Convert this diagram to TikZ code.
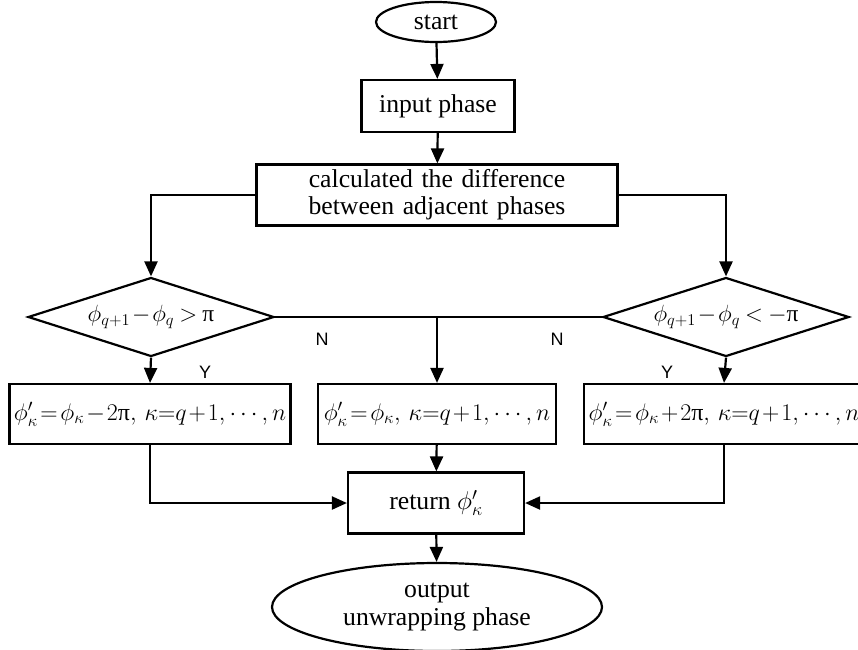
\RequirePackage{fix-cm}
\documentclass[tikz,border=0pt]{standalone}
\usepackage{fontspec}
\setmainfont{Liberation Serif}
\newfontfamily\ynfont{Liberation Sans}
\usetikzlibrary{shapes.geometric,arrows.meta,positioning,calc}

\newcommand{\pii}{\mbox{π}}
\thickmuskip=2mu
\medmuskip=1.5mu

\begin{document}
\begin{tikzpicture}[
    x=1pt, y=-1pt,
    every node/.style={font=\fontsize{25.7}{30}\selectfont},
    >={Triangle[length=15pt,width=13pt]},
    line width=2.2pt,
    box/.style={draw, rectangle, inner sep=0pt, align=center},
    term/.style={draw, ellipse, inner sep=0pt, align=center},
    dec/.style={draw, diamond, aspect=3.1, inner sep=0pt, minimum width=246pt, minimum height=79pt,
                font=\fontsize{23.5}{27}\selectfont},
    eqbox/.style={box, minimum height=60pt, font=\fontsize{24}{28}\selectfont},
    yn/.style={font=\ynfont\fontsize{18}{20}\selectfont},
  ]
  \useasboundingbox (0,0) rectangle (858,649);

  % main column
  \node[term, minimum width=120pt, minimum height=40pt] (start) at (436,22) {start};
  \node[box, minimum width=153pt, minimum height=52pt] (input) at (438,106) {input phase};
  \node[box, minimum width=361pt, minimum height=61pt, text width=355pt,
        font=\fontsize{25.7}{27}\selectfont] (calc) at (437,195)
        {calculated the difference\\between adjacent phases};

  % decisions
  \node[dec] (dl) at (151,317) {$\phi_{q+1}-\phi_q \;>\; \pii$};
  \node[dec] (dr) at (726,317) {$\phi_{q+1}-\phi_q \;<\; {-\pii}$};

  % update boxes
  \node[eqbox, minimum width=281pt] (bl) at (150,414)
        {$\phi'_\kappa=\phi_\kappa-2\pii,\,\kappa{=}q+1,\cdots,n$};
  \node[eqbox, minimum width=238pt] (bm) at (437,414)
        {$\phi'_\kappa=\phi_\kappa,\,\kappa{=}q+1,\cdots,n$};
  \node[eqbox, minimum width=280pt] (br) at (724,414)
        {$\phi'_\kappa=\phi_\kappa+2\pii,\,\kappa{=}q+1,\cdots,n$};

  \node[box, minimum width=176pt, minimum height=61pt] (ret) at (436,503) {return $\phi'_\kappa$};
  \node[term, minimum width=330pt, minimum height=88pt, font=\fontsize{25.7}{28}\selectfont]
        (out) at (437,607) {output\\unwrapping phase};

  % connectors
  \draw[->] (start) -- (input);
  \draw[->] (input) -- (calc);
  \draw[->] (calc.west) -| (dl.north);
  \draw[->] (calc.east) -| (dr.north);
  \draw (dl.east) -- (dr.west);
  \coordinate (jn) at (bm.north |- dl.east);
  \draw[->] (jn) -- (bm.north);
  \draw[->] (dl.south) -- (bl.north);
  \draw[->] (dr.south) -- (br.north);
  \draw[->] (bl.south) |- (ret.west);
  \draw[->] (br.south) |- (ret.east);
  \draw[->] (bm) -- (ret);
  \draw[->] (ret) -- (out);

  % branch labels
  \node[yn] (n1) at (322,339) {N};
  \node[yn] (n2) at (557,339) {N};
  \node[yn] (y1) at (205,372) {Y};
  \node[yn] (y2) at (667,372) {Y};
\end{tikzpicture}
\end{document}
